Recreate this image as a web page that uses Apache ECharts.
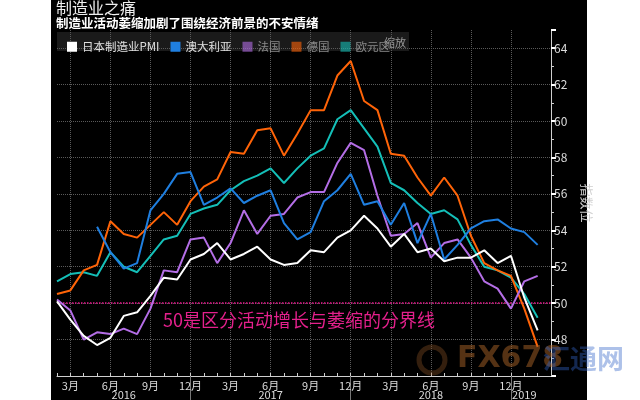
<!DOCTYPE html>
<html>
<head>
<meta charset="utf-8">
<title>制造业之痛</title>
<script src="https://cdn.jsdelivr.net/npm/echarts@6/dist/echarts.min.js"></script>
<style>
  html, body { margin: 0; padding: 0; background: #fff; }
  #panel { position: absolute; left: 51px; top: 0; width: 536px; height: 400px; background: #000; }
  #chart { position: absolute; left: 0; top: 0; width: 640px; height: 400px; }
</style>
</head>
<body>
<div id="panel"></div>
<div id="chart"></div>
<script>
// 月度数据：2016年2月 - 2019年2月（最后一个类目留空）
const months = [
  '2016-02', '2016-03', '2016-04', '2016-05', '2016-06', '2016-07', '2016-08', '2016-09', '2016-10', '2016-11', '2016-12',
  '2017-01', '2017-02', '2017-03', '2017-04', '2017-05', '2017-06', '2017-07', '2017-08', '2017-09', '2017-10', '2017-11', '2017-12',
  '2018-01', '2018-02', '2018-03', '2018-04', '2018-05', '2018-06', '2018-07', '2018-08', '2018-09', '2018-10', '2018-11', '2018-12',
  '2019-01', '2019-02', '2019-03'
]
const yearLabelAt = ['2016-07', '2017-06', '2018-06', '2019-01']

const japan = [50.1, 49.1, 48.2, 47.7, 48.1, 49.3, 49.5, 50.4, 51.4, 51.3, 52.4,
  52.7, 53.3, 52.4, 52.7, 53.1, 52.4, 52.1, 52.2, 52.9, 52.8, 53.6, 54.0,
  54.8, 54.1, 53.1, 53.8, 52.8, 53.0, 52.3, 52.5, 52.5, 52.9, 52.2, 52.6,
  50.3, 48.5]
const australia = ['-', '-', '-', 54.2, 52.8, 51.9, 52.2, 55.1, 56.0, 57.1, 57.2,
  55.4, 55.8, 56.3, 55.5, 55.9, 56.2, 54.4, 53.5, 53.9, 55.6, 56.2, 57.1,
  55.4, 55.6, 54.3, 55.5, 53.3, 54.9, 52.4, 53.2, 54.1, 54.5, 54.6, 54.1,
  53.9, 53.2]
const france = [50.2, 49.6, 48.0, 48.4, 48.3, 48.6, 48.3, 49.7, 51.8, 51.7, 53.5,
  53.6, 52.2, 53.3, 55.1, 53.8, 54.8, 54.9, 55.8, 56.1, 56.1, 57.7, 58.8,
  58.4, 55.9, 53.7, 53.8, 54.4, 52.5, 53.3, 53.5, 52.5, 51.2, 50.8, 49.7,
  51.2, 51.5]
const germany = [50.5, 50.7, 51.8, 52.1, 54.5, 53.8, 53.6, 54.3, 55.0, 54.3, 55.6,
  56.4, 56.8, 58.3, 58.2, 59.5, 59.6, 58.1, 59.3, 60.6, 60.6, 62.5, 63.3,
  61.1, 60.6, 58.2, 58.1, 56.9, 55.9, 56.9, 55.9, 53.7, 52.2, 51.8, 51.5,
  49.7, 47.6]
const eurozone = [51.2, 51.6, 51.7, 51.5, 52.8, 52.0, 51.7, 52.6, 53.5, 53.7, 54.9,
  55.2, 55.4, 56.2, 56.7, 57.0, 57.4, 56.6, 57.4, 58.1, 58.5, 60.1, 60.6,
  59.6, 58.6, 56.6, 56.2, 55.5, 54.9, 55.1, 54.6, 53.2, 52.0, 51.8, 51.4,
  50.5, 49.2]

const seriesNames = ['日本制造业PMI', '澳大利亚', '法国', '德国', '欧元区']
const seriesColors = ['#ffffff', '#1f7fe0', '#b46ee6', '#ff6408', '#14bfb8']
const seriesData = [japan, australia, france, germany, eurozone]

const chart = echarts.init(document.getElementById('chart'))

const lineSeries = seriesData.map((d, i) => ({
  name: seriesNames[i],
  type: 'line',
  data: d,
  symbol: 'none',
  z: 10 - i,
  lineStyle: { width: 2, color: seriesColors[i] },
  itemStyle: { color: seriesColors[i] }
}))

// 50 分界线
lineSeries[0].markLine = {
  silent: true,
  symbol: 'none',
  label: { show: false },
  lineStyle: { type: 'dotted', color: '#e8168c', width: 1.5 },
  data: [{ yAxis: 50 }]
}

// 季度月份 (3/6/9/12月)，最后一个空类目不显示
const isQuarter = (idx, v) => +v.slice(5) % 3 === 0 && idx < months.length - 1

chart.setOption({
  animation: false,
  textStyle: { fontFamily: 'Noto Sans CJK SC, sans-serif' },
  title: {
    text: '制造业之痛',
    subtext: '制造业活动萎缩加剧了围绕经济前景的不安情绪',
    left: 56,
    top: 0,
    padding: 0,
    itemGap: 1,
    textStyle: { color: '#eee', fontSize: 16, fontWeight: 'normal' },
    subtextStyle: { color: '#fff', fontSize: 12.5, fontWeight: 'bold' }
  },
  legend: {
    left: 62,
    top: 36,
    icon: 'rect',
    itemWidth: 10,
    itemHeight: 10,
    itemGap: 11,
    textStyle: { color: '#e0e0e0', fontSize: 11.5 },
    data: [
      { name: '日本制造业PMI' },
      { name: '澳大利亚' },
      { name: '法国', textStyle: { color: '#8a8a8a' }, itemStyle: { opacity: 0.6 } },
      { name: '德国', textStyle: { color: '#8a8a8a' }, itemStyle: { opacity: 0.6 } },
      { name: '欧元区', textStyle: { color: '#8a8a8a' }, itemStyle: { opacity: 0.6 } }
    ]
  },
  grid: { left: 57, right: 89, top: 30, bottom: 24 },
  xAxis: [{
    type: 'category',
    data: months,
    boundaryGap: false,
    axisLine: { lineStyle: { color: '#cfcfcf' } },
    axisTick: { inside: true, length: 3, interval: 0, lineStyle: { color: '#cfcfcf' } },
    axisLabel: {
      color: '#dcdcdc',
      fontSize: 11,
      margin: 4,
      interval: isQuarter,
      formatter: v => +v.slice(5) + '月'
    },
    splitLine: {
      show: true,
      interval: isQuarter,
      lineStyle: { color: '#5a5a5a', type: 'dotted' }
    }
  }, {
    // 年份与年份分隔线
    type: 'category',
    data: months,
    boundaryGap: false,
    position: 'bottom',
    axisLine: { show: false },
    axisTick: {
      length: 24,
      interval: (idx, v) => v.slice(5) === '12',
      lineStyle: { color: '#777' }
    },
    axisLabel: {
      color: '#dcdcdc',
      fontSize: 11,
      margin: 13,
      interval: (idx, v) => yearLabelAt.indexOf(v) >= 0,
      formatter: v => v.slice(0, 4)
    },
    splitLine: { show: false }
  }],
  yAxis: {
    type: 'value',
    position: 'right',
    min: 46,
    max: 65,
    interval: 2,
    name: '指数位',
    nameLocation: 'middle',
    nameRotate: -90,
    nameGap: 29,
    nameTextStyle: { color: '#cfcfcf', fontSize: 13 },
    axisLine: { show: true, lineStyle: { color: '#cfcfcf' } },
    axisTick: { show: true, length: 5, lineStyle: { color: '#fff', width: 2 } },
    minorTick: { show: true, splitNumber: 2, length: 3, lineStyle: { color: '#cfcfcf' } },
    axisLabel: { color: '#dcdcdc', fontSize: 12, margin: 3, showMinLabel: false, showMaxLabel: false },
    splitLine: { show: true, showMaxLine: false, lineStyle: { color: '#5a5a5a', type: 'dotted' } }
  },
  graphic: [
    { type: 'rect', left: 57, top: 32, z: -1, shape: { width: 352, height: 19 }, style: { fill: '#1a1a1a' } },
    { type: 'text', left: 384, top: 37, style: { text: '缩放', fill: '#9a9a9a', font: '11px "Noto Sans CJK SC"' } },
    { type: 'text', left: 163, top: 311, z: 100, style: { text: '50是区分活动增长与萎缩的分界线', fill: '#e4208c', font: '18px "Noto Sans CJK SC"' } },
    // 水印
    { type: 'circle', z: 100, shape: { cx: 432, cy: 360, r: 13 }, style: { fill: 'none', stroke: 'rgba(150,90,40,0.35)', lineWidth: 5 } },
    { type: 'text', left: 457, top: 344, z: 100, style: { text: 'FX678', fill: 'rgba(170,100,40,0.5)', font: 'bold 30px "DejaVu Sans"' } },
    { type: 'text', left: 543, top: 345, z: 100, style: { text: '汇通网', fill: 'rgba(50,100,200,0.4)', font: 'bold 27px "Noto Sans CJK SC"' } }
  ],
  series: lineSeries
})
</script>
</body>
</html>
